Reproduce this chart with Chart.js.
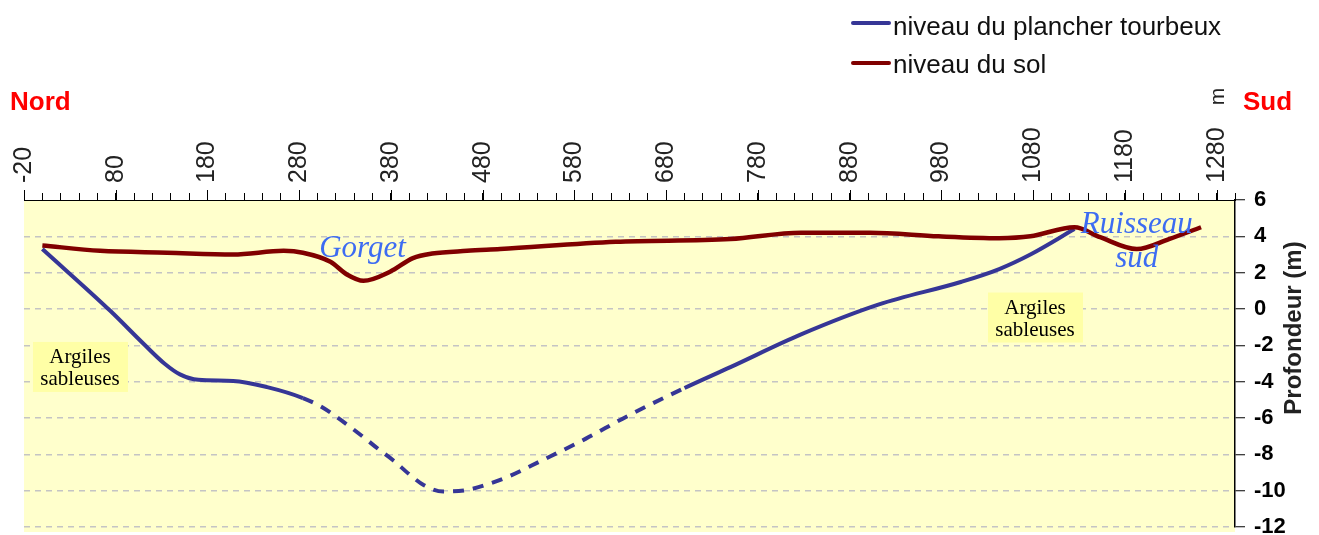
<!DOCTYPE html>
<html>
<head>
<meta charset="utf-8">
<script src="https://cdn.jsdelivr.net/npm/chart.js@4.4.0/dist/chart.umd.min.js"></script>
<style>
  body { margin: 0; background: #fff; }
  #wrap { position: relative; width: 1319px; height: 535px; font-family: "Liberation Sans", Arial, sans-serif; }
  #wrap canvas { position: absolute; left: 0; top: 0; }
  .sw { position: absolute; left: 851px; width: 40px; height: 4px; border-radius: 2px; }
  .lg { position: absolute; left: 893px; font-size: 26px; line-height: 26px; color: #111; white-space: nowrap; }
  .dir { position: absolute; top: 88px; font-size: 26px; line-height: 26px; font-weight: bold; color: #f00; }
  #unit { position: absolute; left: 1208px; top: 86px; font-size: 21px; line-height: 21px; color: #222; transform: rotate(-90deg); transform-origin: center; }
</style>
</head>
<body>
<div id="wrap">
  <canvas id="chart" width="1319" height="535"></canvas>
  <div class="sw" style="top:21px;background:#363696"></div>
  <div class="lg" style="top:13px">niveau du plancher tourbeux</div>
  <div class="sw" style="top:61px;background:#800000"></div>
  <div class="lg" style="top:51px">niveau du sol</div>
  <div class="dir" style="left:10px">Nord</div>
  <div class="dir" style="left:1243px">Sud</div>
  <div id="unit">m</div>
</div>
<script>
// profile data: distance (m) along the transect, level (m)
const solDist   = [0, 63, 136, 208, 263, 284, 314, 332, 350, 379, 404, 425, 463, 499, 625, 750, 827, 902, 977, 1043, 1077, 1125, 1153, 1193, 1228, 1263];
const solLevel  = [3.5, 3.2, 3.1, 3.0, 3.2, 3.1, 2.6, 1.9, 1.55, 2.05, 2.8, 3.05, 3.2, 3.3, 3.7, 3.85, 4.2, 4.2, 4.0, 3.9, 4.0, 4.5, 3.95, 3.3, 3.85, 4.5];

const tourbeDist  = [0, 74, 110, 133, 150, 170, 208, 245, 284, 303, 321, 350, 366, 383, 400, 416, 437, 464, 488, 507, 544, 592, 632, 665, 700, 750, 827, 912, 1002, 1043, 1077, 1125];
const tourbeLevel = [3.3, -0.1, -1.9, -3.0, -3.6, -3.9, -3.96, -4.3, -4.9, -5.35, -5.95, -7.05, -7.7, -8.35, -9.1, -9.7, -10.05, -9.95, -9.6, -9.25, -8.35, -7.15, -6.05, -5.2, -4.35, -3.2, -1.4, 0.25, 1.5, 2.2, 3.0, 4.4];
// extrapolated (dashed) stretch of the peat floor
const dashFrom = 284, dashTo = 700;

const xMin = -20, xMax = 1300, xStep = 20;
const yTicks = [-12, -10, -8, -6, -4, -2, 0, 2, 4, 6];

// text notes placed in data coordinates
const labels = [
  { lines: ["Gorget"], x: 349, y: 2.86 },
  { lines: ["Ruisseau", "sud"], x: 1193, y: 4.18 }
];
const boxes = [
  { lines: ["Argiles", "sableuses"], x: 41, y: -3.19 },
  { lines: ["Argiles", "sableuses"], x: 1082, y: -0.47 }
];

const pts = (xs, ys) => xs.map((x, i) => ({ x: x, y: ys[i] }));
const tickFont = 25;

const decor = {
  id: "decor",
  beforeDraw(chart) {
    const { ctx, chartArea: a } = chart;
    ctx.save();
    ctx.fillStyle = "#ffffcc";
    ctx.fillRect(a.left, a.top, a.right - a.left, chart.height - 3 - a.top);
    ctx.restore();
  },
  afterDraw(chart) {
    // longer marks at the labelled distances
    const { ctx, scales: { x }, chartArea: a } = chart;
    ctx.save();
    ctx.strokeStyle = "#000";
    ctx.lineWidth = 1;
    for (let v = xMin; v <= xMax; v += 100) {
      const px = Math.round(x.getPixelForValue(v)) + 0.5;
      ctx.beginPath();
      ctx.moveTo(px, a.top);
      ctx.lineTo(px, a.top - 10);
      ctx.stroke();
    }
    ctx.restore();
  },
  afterDatasetsDraw(chart) {
    const { ctx, scales: { x, y } } = chart;
    ctx.save();
    ctx.textAlign = "center";
    ctx.textBaseline = "alphabetic";

    boxes.forEach(b => {
      const cx = x.getPixelForValue(b.x), cy = y.getPixelForValue(b.y);
      ctx.fillStyle = "#ffffa6";
      ctx.fillRect(cx - 47, cy - 25, 95, 50);
      ctx.fillStyle = "#000";
      ctx.font = '21px "Liberation Serif", "Times New Roman", serif';
      ctx.fillText(b.lines[0], cx, cy - 4);
      ctx.fillText(b.lines[1], cx, cy + 18);
    });

    ctx.fillStyle = "#3d6cf2";
    ctx.font = 'italic 31px "Liberation Serif", "Times New Roman", serif';
    labels.forEach(l => {
      const cx = x.getPixelForValue(l.x), cy = y.getPixelForValue(l.y);
      l.lines.forEach((t, i) => ctx.fillText(t, cx, cy + i * 34));
    });

    // right axis title, read bottom to top
    ctx.translate(1294, 328);
    ctx.rotate(-Math.PI / 2);
    ctx.textBaseline = "middle";
    ctx.fillStyle = "#222";
    ctx.font = 'bold 24px "Liberation Sans", Arial, sans-serif';
    ctx.fillText("Profondeur (m)", 0, 0);
    ctx.restore();
  }
};

new Chart(document.getElementById("chart"), {
  type: "line",
  data: {
    datasets: [
      {
        label: "niveau du sol",
        data: pts(solDist, solLevel),
        borderColor: "#800000",
        borderWidth: 4.5,
        pointRadius: 0,
        cubicInterpolationMode: "monotone"
      },
      {
        label: "niveau du plancher tourbeux",
        data: pts(tourbeDist, tourbeLevel),
        borderColor: "#363696",
        borderWidth: 4,
        pointRadius: 0,
        borderCapStyle: "butt",
        cubicInterpolationMode: "monotone",
        segment: {
          borderDash: c => (c.p0.parsed.x >= dashFrom && c.p1.parsed.x <= dashTo) ? [11, 9] : undefined
        }
      }
    ]
  },
  options: {
    responsive: false,
    animation: false,
    layout: { padding: { left: 24, top: 0, right: 0, bottom: 8 } },
    plugins: { legend: { display: false }, tooltip: { enabled: false } },
    scales: {
      x: {
        type: "linear",
        position: "top",
        min: xMin,
        max: xMax,
        afterFit: s => { s.height = 200; s.paddingLeft = 0; s.paddingRight = 0; },
        ticks: {
          stepSize: xStep,
          autoSkip: false,
          minRotation: 90,
          maxRotation: 90,
          padding: 10,
          labelOffset: Math.round(tickFont * 1.2),
          color: "#222",
          font: { family: '"Liberation Sans", Arial, sans-serif', size: tickFont },
          callback: v => ((v - xMin) % 100 === 0 && v < xMax) ? String(v) : ""
        },
        grid: { drawOnChartArea: false, tickLength: 7, tickColor: "#000" },
        border: { display: true, color: "#000", width: 1 }
      },
      y: {
        position: "right",
        min: -12,
        max: 6,
        afterFit: s => { s.width = 84; s.paddingTop = 0; s.paddingBottom = 0; },
        afterBuildTicks: s => { s.ticks = yTicks.map(v => ({ value: v })); },
        ticks: {
          padding: 9,
          color: "#000",
          font: { family: '"Liberation Sans", Arial, sans-serif', size: 22, weight: "bold" }
        },
        grid: {
          color: c => c.tick && c.tick.value === 6 ? "rgba(0,0,0,0)" : "#c4c4c4",
          lineWidth: 1.5,
          tickLength: 10,
          tickColor: "#000",
          tickWidth: 1
        },
        border: { display: true, color: "#000", width: 1.5, dash: [6, 5] }
      }
    }
  },
  plugins: [decor]
});
</script>
</body>
</html>
